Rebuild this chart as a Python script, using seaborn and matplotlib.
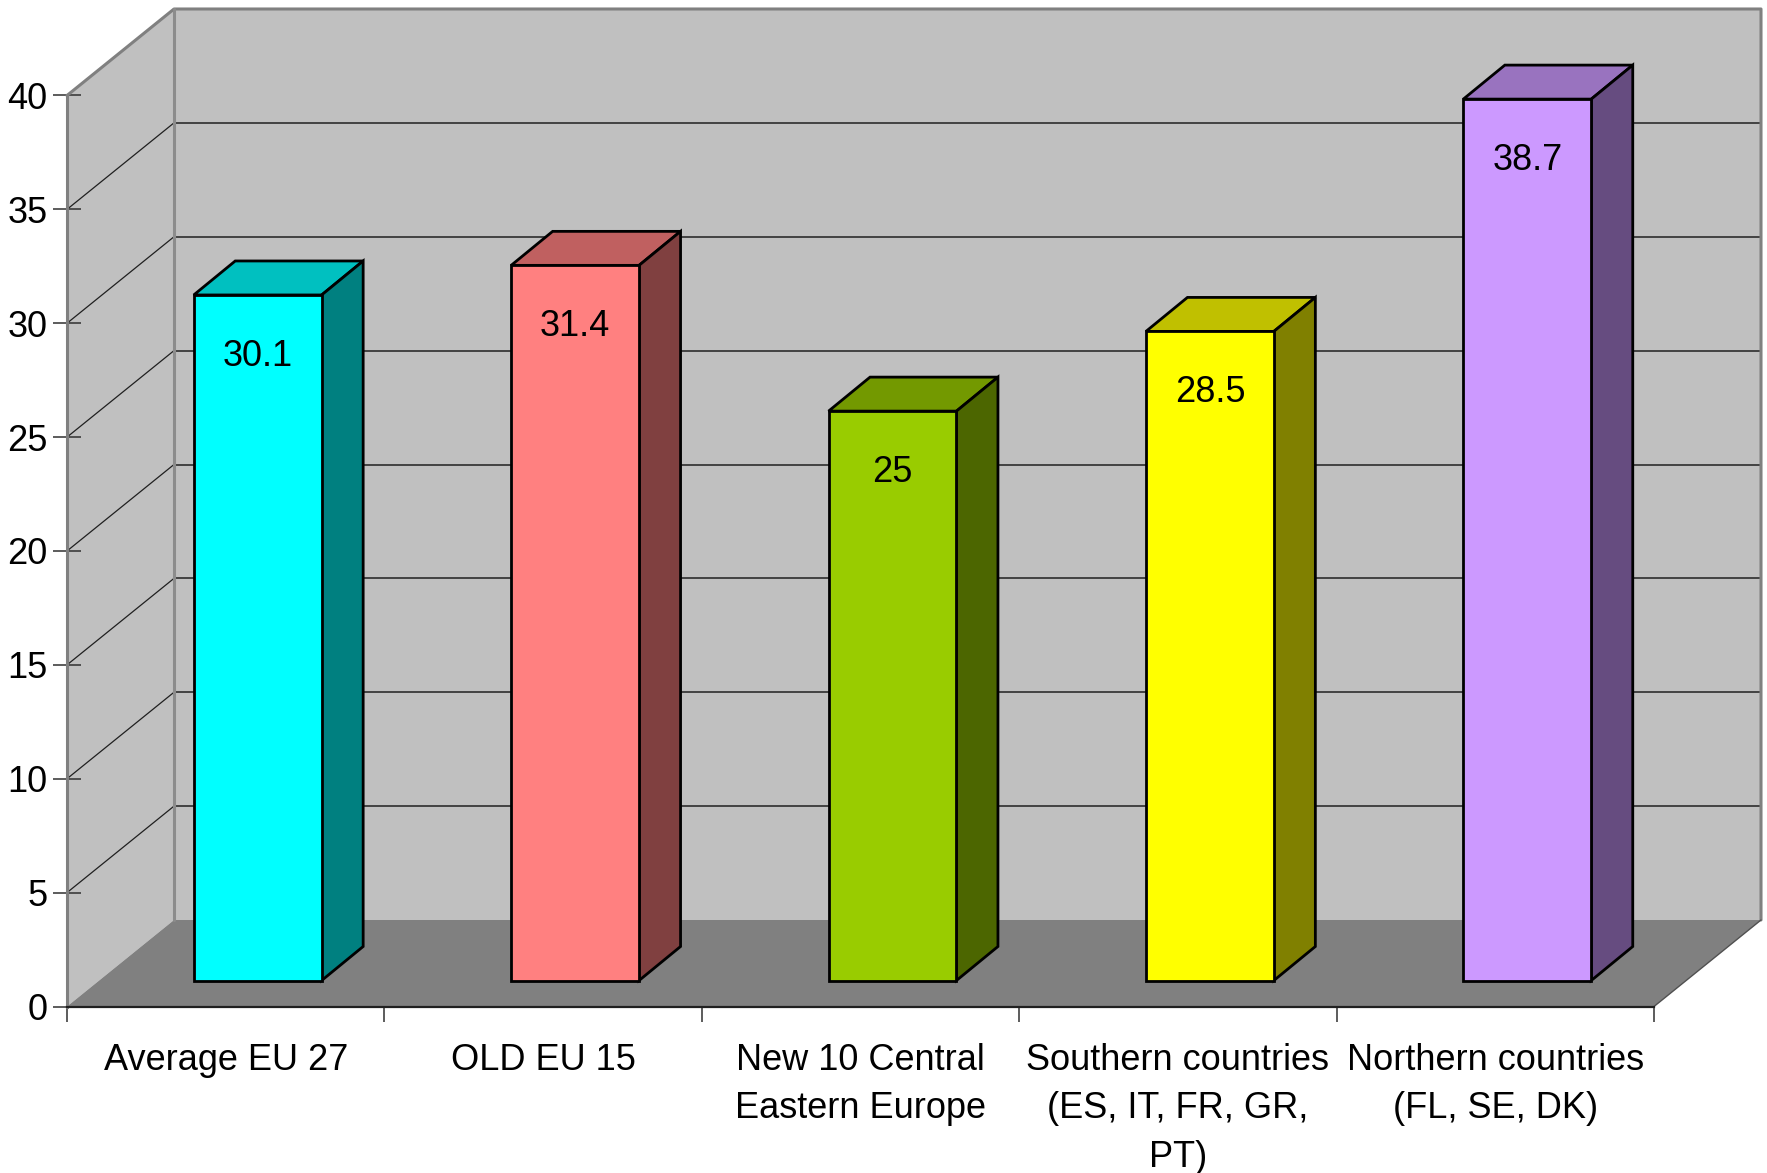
import numpy as np
import pandas as pd
import matplotlib
matplotlib.use("Agg")
import matplotlib.pyplot as plt
import seaborn as sns
from matplotlib.patches import Polygon
from matplotlib.lines import Line2D
import matplotlib.transforms as mtransforms

# ---------------- data ----------------
categories = ["Average EU 27", "OLD EU 15", "New 10 Central\nEastern Europe",
              "Southern countries\n(ES, IT, FR, GR,\nPT)", "Northern countries\n(FL, SE, DK)"]
values = [30.1, 31.4, 25.0, 28.5, 38.7]
value_labels = ["30.1", "31.4", "25", "28.5", "38.7"]
y_ticks = [0, 5, 10, 15, 20, 25, 30, 35, 40]
front_colors = ["#00FFFF", "#FF8080", "#99CC00", "#FFFF00", "#CC99FF"]
top_colors = ["#00C0C0", "#C06060", "#739900", "#C0C000", "#9973BF"]
side_colors = ["#008080", "#804040", "#4C6600", "#808000", "#664C80"]

sns.set_theme(style="white")
plt.rcParams['font.family'] = ['Liberation Sans', 'DejaVu Sans']

FS = 26

W, H = 1767, 1173
fig = plt.figure(figsize=(W / 100, H / 100), dpi=100)
fig.patch.set_facecolor("white")

# front plane of the 3D box (pixel geometry of the reference)
x0px, x1px = 67, 1654
y0px, y40px = 1006.5, 95.5
ax = fig.add_axes([x0px / W, 1 - y0px / H, (x1px - x0px) / W, (y0px - y40px) / H])
ax.set_facecolor("none")

df = pd.DataFrame({"cat": categories, "val": values})
sns.barplot(data=df, x="cat", y="val", hue="cat", palette=front_colors,
            width=0.403, edgecolor="black", linewidth=2.0, legend=False,
            saturation=1, ax=ax, zorder=6)

ax.set_xlim(-0.5, 4.5)
ax.set_ylim(0, 40)


def px2data(dx, dy):
    o = ax.transData.transform((0, 0))
    p = ax.transData.inverted().transform((o[0] + dx, o[1] + dy))
    return p[0], p[1]


Dx, Dy = px2data(107, 86.5)      # full depth of the box
bx, by = px2data(41.5, 34)       # depth of each bar
bar_off = mtransforms.offset_copy(ax.transData, fig, x=32, y=26, units="dots")

xl, xr = -0.5, 4.5
ytop = y_ticks[-1]

# walls & floor
wall_kw = dict(closed=True, clip_on=False, linewidth=0)
ax.add_patch(Polygon([(xl, 0), (xl, ytop), (xl + Dx, ytop + Dy), (xl + Dx, Dy)],
                     facecolor="#C0C0C0", zorder=0, **wall_kw))
ax.add_patch(Polygon([(xl + Dx, Dy), (xr + Dx, Dy), (xr + Dx, ytop + Dy), (xl + Dx, ytop + Dy)],
                     facecolor="#C0C0C0", zorder=0, **wall_kw))
ax.add_patch(Polygon([(xl, 0), (xr, 0), (xr + Dx, Dy), (xl + Dx, Dy)],
                     facecolor="#808080", zorder=0.5, **wall_kw))

# gridlines
for t in y_ticks[1:-1]:
    ax.add_line(Line2D([xl + Dx, xr + Dx], [t + Dy, t + Dy], color="#202020",
                       lw=1.1, clip_on=False, zorder=1))
    ax.add_line(Line2D([xl, xl + Dx], [t, t + Dy], color="#202020",
                       lw=0.9, clip_on=False, zorder=1))

# wall edges
ax.add_line(Line2D([xl, xl + Dx, xr + Dx, xr + Dx], [ytop, ytop + Dy, ytop + Dy, Dy],
                   color="#808080", lw=2.2, clip_on=False, zorder=2))
ax.add_line(Line2D([xl + Dx, xl + Dx], [Dy, ytop + Dy],
                   color="#8C8C8C", lw=2.2, clip_on=False, zorder=2))
ax.add_line(Line2D([xr, xr + Dx], [0, Dy], color="#505050",
                   lw=1.0, clip_on=False, zorder=2))

# 3D bar faces
bars = [pp for pp in ax.patches if pp.get_zorder() == 6]
for i, p in enumerate(bars):
    p.set_transform(bar_off)
    p.set_clip_on(False)
    x, w, h = p.get_x(), p.get_width(), p.get_height()
    top = Polygon([(x, h), (x + w, h), (x + w + bx, h + by), (x + bx, h + by)],
                  closed=True, facecolor=top_colors[i], edgecolor="black",
                  linewidth=2.0, transform=bar_off, clip_on=False, zorder=5)
    side = Polygon([(x + w, 0), (x + w, h), (x + w + bx, h + by), (x + w + bx, by)],
                   closed=True, facecolor=side_colors[i], edgecolor="black",
                   linewidth=2.0, transform=bar_off, clip_on=False, zorder=5)
    ax.add_patch(top)
    ax.add_patch(side)
    ax.text(x + w / 2, h - 2.7, value_labels[i], transform=bar_off,
            ha="center", va="center", fontsize=FS, color="black", zorder=10)

# spines
for s in ["top", "right"]:
    ax.spines[s].set_visible(False)
ax.spines["left"].set_color("#808080")
ax.spines["left"].set_linewidth(2.2)
ax.spines["bottom"].set_color("#202020")
ax.spines["bottom"].set_linewidth(1.6)
ax.spines["left"].set_zorder(3)
ax.spines["bottom"].set_zorder(3)

# ticks
ax.set_yticks(y_ticks)
ax.set_yticklabels([str(t) for t in y_ticks])
ax.tick_params(axis="y", direction="inout", length=20, width=1.1, color="#303030",
               labelsize=FS, pad=4, left=True, labelcolor="black")
ax.set_xticks(np.arange(-0.5, 5.0, 1.0))
ax.set_xticklabels([""] * 6)
ax.set_xticks(np.arange(5), labels=categories, minor=True)
ax.tick_params(axis="x", which="major", direction="out", length=11, width=1.1,
               color="#303030", bottom=True)
ax.tick_params(axis="x", which="minor", length=0, labelsize=FS, pad=26,
               labelcolor="black")
for lab in ax.get_xticklabels(minor=True):
    lab.set_multialignment("center")
    lab.set_linespacing(1.5)
ax.set_xlabel("")
ax.set_ylabel("")

fig.savefig("out.png", dpi=100)
